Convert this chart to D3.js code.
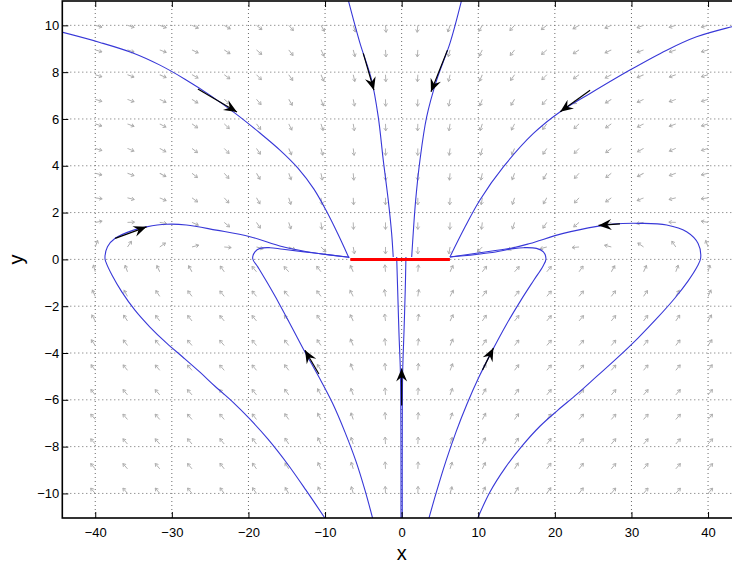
<!DOCTYPE html>
<html>
<head>
<meta charset="utf-8">
<script src="https://cdn.jsdelivr.net/npm/d3@7"></script>
<style>
  html, body { margin: 0; padding: 0; background: #fff; }
  svg { display: block; }
  text { font-family: "Liberation Sans", Arial, Helvetica, sans-serif; }
</style>
</head>
<body>
<svg id="chart" width="732" height="567"></svg>
<script>
// ---------------- DATA ----------------
const xTicks = [-40, -30, -20, -10, 0, 10, 20, 30, 40];
const yTicks = [-10, -8, -6, -4, -2, 0, 2, 4, 6, 8, 10];

// quiver grid positions
const quiverX = [-40, -35.79, -31.58, -27.37, -23.16, -18.95, -14.74, -10.53, -6.32, -2.11,
                 2.11, 6.32, 10.53, 14.74, 18.95, 23.16, 27.37, 31.58, 35.79, 40];
const quiverY = [10, 8.95, 7.89, 6.84, 5.79, 4.74, 3.68, 2.63, 1.58, 0.53,
                 -0.53, -1.58, -2.63, -3.68, -4.74, -5.79, -6.84, -7.89, -8.95, -10];
// on-screen direction of each gray quiver arrow (degrees, 0 = right, 90 = down), rows follow quiverY
const quiverAngle = [
  [15,17,20,24,30,38,48,60,72,85, 95,108,120,132,142,150,156,160,163,165],
  [16,18,22,26,33,41,52,63,75,86, 94,105,117,128,139,147,154,158,162,164],
  [17,20,24,29,36,45,55,66,77,87, 93,103,114,125,135,144,151,156,160,163],
  [18,21,26,32,40,49,59,69,79,88, 92,101,111,121,131,140,148,154,159,162],
  [18,22,28,35,43,53,63,72,81,88, 92,99,108,117,127,137,145,152,158,162],
  [17,22,29,37,46,56,66,75,83,89, 91,97,105,114,124,134,143,151,158,163],
  [14,20,28,38,48,59,69,78,85,89, 91,95,102,111,121,132,142,152,160,166],
  [8,14,24,36,48,60,72,81,87,90, 90,93,99,108,120,132,144,156,166,172],
  [350,358,10,24,40,56,72,83,88,90, 90,92,97,108,124,140,156,170,182,190],
  [290,305,325,345,5,15,25,45,80,90, 90,100,135,155,165,175,195,215,235,250],
  [255,250,245,240,235,230,228,232,245,265, 275,295,308,312,310,305,300,295,290,285],
  [245,240,236,233,231,230,230,233,242,262, 278,298,307,310,310,309,307,304,300,295],
  [240,236,233,231,230,230,231,235,244,263, 277,296,305,309,310,310,309,307,304,300],
  [236,233,231,230,229,230,232,236,246,264, 276,294,304,308,310,311,310,309,307,304],
  [233,231,230,229,229,230,233,238,248,265, 275,292,302,307,310,311,311,310,309,307],
  [231,230,229,229,229,231,234,240,250,266, 274,290,300,306,309,311,311,311,310,309],
  [230,229,229,229,230,232,235,241,251,266, 274,289,299,305,308,310,311,311,311,310],
  [229,229,229,230,231,233,237,243,252,267, 273,288,297,303,307,309,310,311,311,311],
  [229,229,230,230,232,234,238,244,253,267, 273,287,296,302,306,308,310,310,311,311],
  [229,229,230,231,233,235,239,245,254,268, 272,286,295,301,305,307,309,310,311,311]
];

// trajectories [x, y]
const trajTopLeft = [[-44.6,9.73],[-39.39,9.27],[-35.08,8.82],[-31.55,8.30],[-28.29,7.70],[-25.03,7.02],
  [-21.76,6.25],[-18.50,5.40],[-15.89,4.67],[-13.54,3.90],[-11.45,3.00],[-9.75,2.02],[-8.32,1.08],[-6.88,0.06]];
const trajTopCenterLeft = [[-6.97,11.08],[-5.44,9.24],[-3.92,7.66],[-3.05,6.08],[-2.40,4.24],
  [-1.75,2.53],[-1.31,1.12],[-1.10,0.1]];
const trajTopCenterRight = [[7.83,11.08],[6.31,9.24],[4.57,7.66],[3.26,6.08],[2.39,4.24],
  [1.83,2.53],[1.51,1.12],[1.31,0.1]];
const trajTopRight = [[44.6,10.06],[43.1,9.94],[38.5,9.51],[34.6,8.94],[29.8,8.09],[24.6,7.09],[20.7,6.31],
  [17.2,5.38],[13.3,3.96],[10.2,2.53],[8.3,1.40],[6.3,0.1]];
const trajOuterLeft = [[-10.01,-11.06],[-12.49,-9.86],[-14.97,-8.71],[-17.45,-7.68],[-19.80,-6.83],
  [-22.03,-6.10],[-24.37,-5.42],[-26.33,-4.82],[-28.55,-4.18],[-30.68,-3.58],[-32.86,-2.89],
  [-34.82,-2.17],[-36.51,-1.40],[-37.82,-0.67],[-38.60,-0.12],[-38.73,0.05],[-38.4,0.54],
  [-37.4,0.90],[-35.0,1.25],[-33.3,1.39],[-30.7,1.50],[-28.1,1.47],[-24.2,1.25],[-19.8,0.97],
  [-15.5,0.54],[-11.1,0.26],[-6.84,0.09]];
const trajInnerLeft = [[-3.79,-11.06],[-4.79,-9.86],[-5.97,-8.62],[-7.40,-7.38],[-8.97,-6.18],
  [-10.80,-5.03],[-12.62,-3.96],[-14.32,-2.91],[-16.02,-1.87],[-17.59,-0.97],[-18.76,-0.33],
  [-19.45,0.04],[-19.15,0.32],[-18.5,0.47],[-17.2,0.50],[-15.5,0.43],[-11.1,0.26],[-6.84,0.09]];
const trajInnerRight = [[3.56,-11.06],[4.61,-9.86],[5.78,-8.62],[7.09,-7.38],[8.53,-6.18],
  [10.09,-5.03],[11.79,-3.92],[13.62,-2.81],[15.58,-1.74],[17.27,-0.88],[18.45,-0.29],[18.84,0.02],
  [18.5,0.32],[17.6,0.47],[15.9,0.50],[14.57,0.46],[11.5,0.28],[6.3,0.1]];
const trajOuterRight = [[9.92,-11.06],[11.53,-9.94],[13.49,-8.92],[15.70,-7.98],[18.05,-7.13],
  [20.40,-6.44],[22.88,-5.76],[25.50,-4.99],[28.11,-4.22],[30.85,-3.36],[33.46,-2.47],
  [35.68,-1.65],[37.38,-0.93],[38.55,-0.33],[39.03,0.05],[38.7,0.68],
  [37.2,1.18],[34.6,1.47],[31.1,1.54],[27.6,1.51],[25.7,1.42],[21.1,1.11],[16.75,0.68],
  [14.57,0.50],[10.2,0.28],[6.3,0.1]];
const trajCenterLeft = [[-0.09,-11.05],[-0.09,-8.15],[-0.16,-4.86],[-0.35,-3.15],[-0.52,-1.31],[-0.65,0.1]];
const trajCenterRight = [[0.08,-11.05],[0.08,-8.15],[0.13,-4.86],[0.30,-3.15],[0.47,-1.31],[0.56,0.1]];
const trajectories = [trajTopLeft, trajTopCenterLeft, trajTopCenterRight, trajTopRight,
  trajOuterLeft, trajInnerLeft, trajInnerRight, trajOuterRight, trajCenterLeft, trajCenterRight];

// equilibrium segment on y = 0
const equilibriumX = [-6.7, 6.3];
const equilibriumY = 0;

// black direction arrows: [tailX, tailY, tipX, tipY]
const dirArrows = [
  [-26.6, 7.28, -21.5, 6.30],
  [-5.01, 8.80, -3.62, 7.23],
  [5.98, 8.94, 3.83, 7.16],
  [24.6, 7.23, 20.7, 6.31],
  [-37.4, 0.90, -33.3, 1.39],
  [28.5, 1.52, 25.7, 1.45],
  [-10.80, -4.90, -12.62, -3.88],
  [10.55, -4.73, 11.98, -3.79],
  [0.0, -6.23, 0.0, -4.66]
];

// ---------------- DRAW ----------------
const svg = d3.select("#chart");
const L = 62.3, R = 741, T = 1, B = 518;
const x = d3.scaleLinear().domain([-44.3, 44.3]).range([L, R]);
const y = d3.scaleLinear().domain([-11.05, 11.04]).range([B, T]);

svg.append("defs").append("clipPath").attr("id", "plotclip")
  .append("rect").attr("x", L).attr("y", T).attr("width", R - L).attr("height", B - T);

const plot = svg.append("g").attr("clip-path", "url(#plotclip)");

// grid (dotted)
plot.append("g").selectAll("line").data(xTicks).join("line")
  .attr("x1", d => x(d)).attr("x2", d => x(d)).attr("y1", T).attr("y2", B)
  .attr("stroke", "#6a6a6a").attr("stroke-width", 1).attr("stroke-dasharray", "1,3");
plot.append("g").selectAll("line").data(yTicks).join("line")
  .attr("y1", d => y(d)).attr("y2", d => y(d)).attr("x1", L).attr("x2", R)
  .attr("stroke", "#6a6a6a").attr("stroke-width", 1).attr("stroke-dasharray", "1,3");

// quiver field
const qData = [];
quiverY.forEach((yy, i) => quiverX.forEach((xx, j) => qData.push({x: xx, y: yy, a: quiverAngle[i][j]})));
const qLen = 7, qHead = 2.8;
plot.append("g").selectAll("path").data(qData).join("path")
  .attr("transform", d => `translate(${x(d.x)},${y(d.y)}) rotate(${d.a})`)
  .attr("d", `M0,0L${qLen},0M${qLen - qHead},${-qHead * 0.65}L${qLen},0L${qLen - qHead},${qHead * 0.65}`)
  .attr("fill", "none").attr("stroke", "#adadad").attr("stroke-width", 0.9);

// trajectories
const line = d3.line().x(d => x(d[0])).y(d => y(d[1])).curve(d3.curveCatmullRom.alpha(0.5));
plot.append("g").selectAll("path").data(trajectories).join("path")
  .attr("d", line).attr("fill", "none").attr("stroke", "#3838d8").attr("stroke-width", 1.1);

// equilibrium segment
plot.append("line")
  .attr("x1", x(equilibriumX[0])).attr("x2", x(equilibriumX[1]))
  .attr("y1", y(equilibriumY)).attr("y2", y(equilibriumY))
  .attr("stroke", "#ff0000").attr("stroke-width", 3);

// direction arrows
const ag = plot.append("g");
dirArrows.forEach(a => {
  const x0 = x(a[0]), y0 = y(a[1]), x1 = x(a[2]), y1 = y(a[3]);
  const ang = Math.atan2(y1 - y0, x1 - x0) * 180 / Math.PI;
  ag.append("line").attr("x1", x0).attr("y1", y0).attr("x2", x1).attr("y2", y1)
    .attr("stroke", "#000").attr("stroke-width", 1.2);
  ag.append("path").attr("transform", `translate(${x1},${y1}) rotate(${ang})`)
    .attr("d", "M0,0L-13,-5.5L-8.5,0L-13,5.5Z").attr("fill", "#000");
});

// axes (ticks inward)
const fmt = d3.format("");
const axB = svg.append("g").attr("transform", `translate(0,${B})`)
  .call(d3.axisBottom(x).tickValues(xTicks).tickSizeInner(-6).tickSizeOuter(0).tickPadding(10).tickFormat(fmt));
const axT = svg.append("g").attr("transform", `translate(0,${T})`)
  .call(d3.axisTop(x).tickValues(xTicks).tickSizeInner(-6).tickSizeOuter(0).tickFormat(""));
const axL = svg.append("g").attr("transform", `translate(${L},0)`)
  .call(d3.axisLeft(y).tickValues(yTicks).tickSizeInner(-6).tickSizeOuter(0).tickPadding(3).tickFormat(fmt));
[axB, axT, axL].forEach(g => {
  g.select(".domain").remove();
  g.selectAll(".tick line").attr("stroke", "#000").attr("stroke-width", 1);
  g.selectAll("text").attr("font-size", 13).attr("fill", "#000")
    .style("font-family", "'Liberation Sans', Arial, sans-serif");
});

// frame
svg.append("rect").attr("x", L).attr("y", T).attr("width", R - L).attr("height", B - T)
  .attr("fill", "none").attr("stroke", "#000").attr("stroke-width", 1.6);

// axis titles
svg.append("text").attr("x", (x(0))).attr("y", 560).attr("text-anchor", "middle")
  .attr("font-size", 20).text("x");
svg.append("text").attr("transform", `translate(23,${y(0)}) rotate(-90)`)
  .attr("text-anchor", "middle").attr("font-size", 20).text("y");
</script>
</body>
</html>
